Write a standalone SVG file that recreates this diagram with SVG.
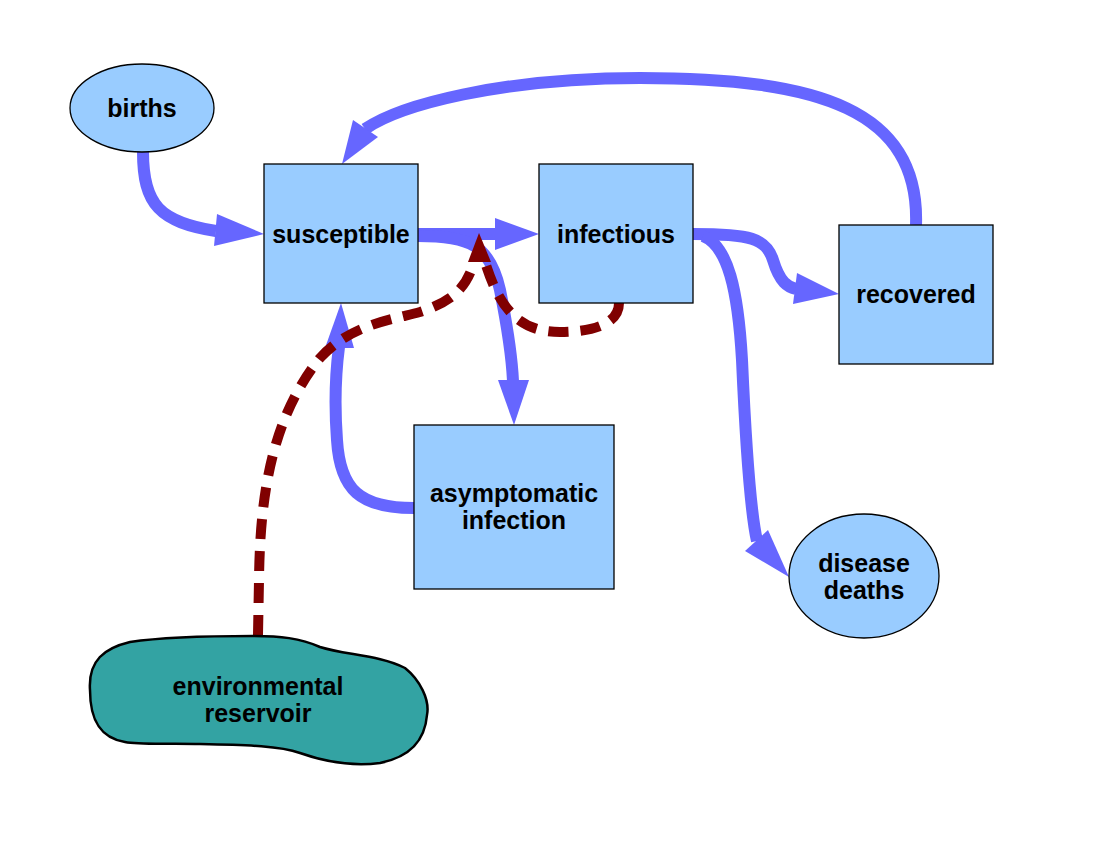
<svg xmlns="http://www.w3.org/2000/svg" width="1100" height="850" viewBox="0 0 1100 850">
<style>
.node{fill:#99ccff;stroke:#000;stroke-width:1.3}
.blob{fill:#33a3a3;stroke:#000;stroke-width:2.5}
.lbl{font-family:"Liberation Sans",Arial,sans-serif;font-weight:bold;font-size:25px;fill:#000;text-anchor:middle}
.flow{fill:none;stroke:#6666ff;stroke-width:12}
.flowhead{fill:#6666ff}
.dash{fill:none;stroke:#800000;stroke-width:10;stroke-dasharray:20,12}
.dashhead{fill:#800000}
</style>
<rect width="1100" height="850" fill="#fff"/>
<g id="connectors">
  <path class="flow" d="M143,152 C143,205 160,222 216,231"/>
  <polygon class="flowhead" points="217,214 264,234 214,246"/>
  <path class="flow" d="M916,225 C920,110 820,78 640,78 C500,78 400,105 365,129"/>
  <polygon class="flowhead" points="353,120 342,164 378,137"/>
  <path class="flow" d="M418,234 L496,234"/>
  <polygon class="flowhead" points="495,218 539,234 495,250"/>
  <path class="flow" d="M418,236 C470,236 490,245 500,290 C508,330 512,360 513,381"/>
  <polygon class="flowhead" points="498,380 514,425 529,380"/>
  <path class="flow" d="M693,234 C750,234 766,238 773,260 C780,283 788,287 796,289"/>
  <polygon class="flowhead" points="797,273 839,294 793,304"/>
  <path class="flow" d="M703,236 C728,246 738,290 742,360 C746,450 750,510 757,541"/>
  <polygon class="flowhead" points="745,551 789,577 768,530"/>
  <path class="flow" d="M414,508 C360,508 340,490 337,440 C334,400 336,370 339,347"/>
  <polygon class="flowhead" points="325,348 341,303 354,348"/>
  <path class="dash" d="M258,635 L259,580 C260,500 270,420 320,358 C350,325 390,320 420,312 C450,302 466,290 474,262"/>
  <path class="dash" d="M619,303 C619,325 590,332 560,332 C520,332 500,310 485,262"/>
  <polygon class="dashhead" points="468,262 479,233 491,262"/>
</g>
<g id="births">
  <ellipse class="node" cx="142" cy="108" rx="72" ry="44"/>
  <text class="lbl" x="142" y="117">births</text>
</g>
<g id="susceptible">
  <rect class="node" x="264" y="164" width="154" height="139"/>
  <text class="lbl" x="341" y="243">susceptible</text>
</g>
<g id="infectious">
  <rect class="node" x="539" y="164" width="154" height="139"/>
  <text class="lbl" x="616" y="243">infectious</text>
</g>
<g id="recovered">
  <rect class="node" x="839" y="225" width="154" height="139"/>
  <text class="lbl" x="916" y="303">recovered</text>
</g>
<g id="asymptomatic">
  <rect class="node" x="414" y="425" width="200" height="164"/>
  <text class="lbl" x="514" y="502">asymptomatic</text>
  <text class="lbl" x="514" y="529">infection</text>
</g>
<g id="deaths">
  <ellipse class="node" cx="864" cy="576" rx="75" ry="62"/>
  <text class="lbl" x="864" y="572">disease</text>
  <text class="lbl" x="864" y="599">deaths</text>
</g>
<g id="reservoir">
  <path class="blob" d="M90,690 C88,660 105,648 130,642 C170,636 230,636 253,636 C280,636 300,638 320,647 C345,655 380,655 405,668 C420,680 430,700 427,715 C425,740 410,757 380,763 C350,767 320,760 300,753 C280,746 250,745 200,744 C170,743 140,745 125,742 C100,738 90,720 90,690 Z"/>
  <text class="lbl" x="258" y="695">environmental</text>
  <text class="lbl" x="258" y="722">reservoir</text>
</g>
</svg>
